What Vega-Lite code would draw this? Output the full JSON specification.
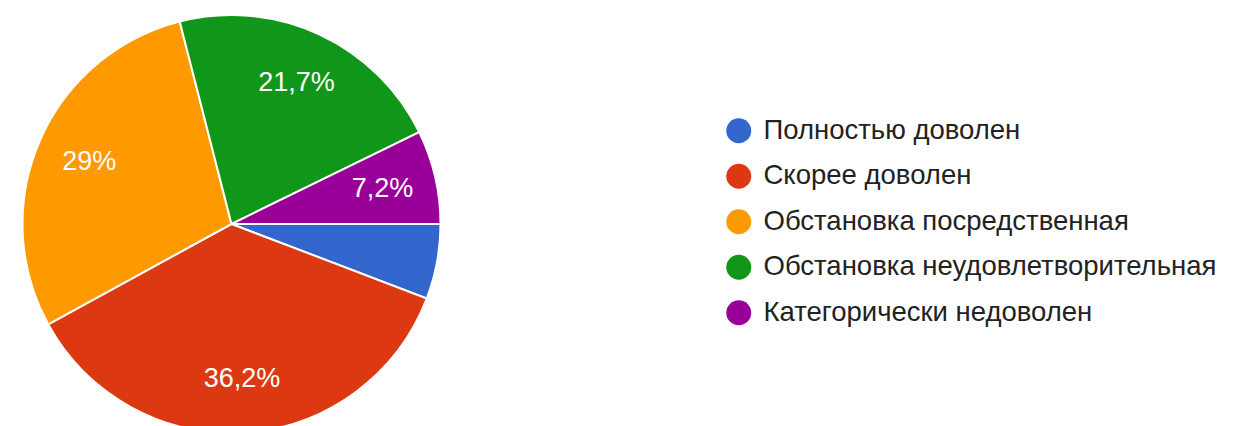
{
  "$schema": "https://vega.github.io/schema/vega-lite/v6.json",
  "width": 463,
  "height": 448,
  "autosize": {"type": "none"},
  "padding": {"left": 0, "top": 0, "right": 770, "bottom": 0},
  "background": "white",
  "config": {"view": {"stroke": null}, "font": "Liberation Sans"},
  "data": {
    "values": [
      {"category": "Полностью доволен", "count": 4, "order": 1, "label": ""},
      {"category": "Скорее доволен", "count": 25, "order": 2, "label": "36,2%"},
      {"category": "Обстановка посредственная", "count": 20, "order": 3, "label": "29%"},
      {"category": "Обстановка неудовлетворительная", "count": 15, "order": 4, "label": "21,7%"},
      {"category": "Категорически недоволен", "count": 5, "order": 5, "label": "7,2%"}
    ]
  },
  "encoding": {
    "theta": {"field": "count", "type": "quantitative", "stack": true, "scale": {"range": [1.5708, 7.854]}},
    "order": {"field": "order", "type": "quantitative"},
    "color": {
      "field": "category",
      "type": "nominal",
      "sort": ["Полностью доволен", "Скорее доволен", "Обстановка посредственная", "Обстановка неудовлетворительная", "Категорически недоволен"],
      "scale": {
        "domain": ["Полностью доволен", "Скорее доволен", "Обстановка посредственная", "Обстановка неудовлетворительная", "Категорически недоволен"],
        "range": ["#3366cc", "#dc3912", "#ff9900", "#109618", "#990099"]
      },
      "legend": {
        "title": null,
        "orient": "none",
        "legendX": 725,
        "legendY": 117,
        "symbolType": "circle",
        "symbolSize": 625,
        "symbolStrokeWidth": 0,
        "symbolOpacity": 1,
        "labelFontSize": 27.5,
        "labelColor": "#222222",
        "labelFont": "Liberation Sans",
        "labelOffset": 11,
        "labelLimit": 600,
        "rowPadding": 16.5
      }
    }
  },
  "layer": [
    {
      "mark": {"type": "arc", "outerRadius": 209, "stroke": "white", "strokeWidth": 2}
    },
    {
      "mark": {"type": "text", "radius": 155, "fontSize": 27, "fill": "white", "font": "Liberation Sans"},
      "encoding": {
        "text": {"field": "label", "type": "nominal"},
        "color": {"value": "white"}
      }
    }
  ]
}
